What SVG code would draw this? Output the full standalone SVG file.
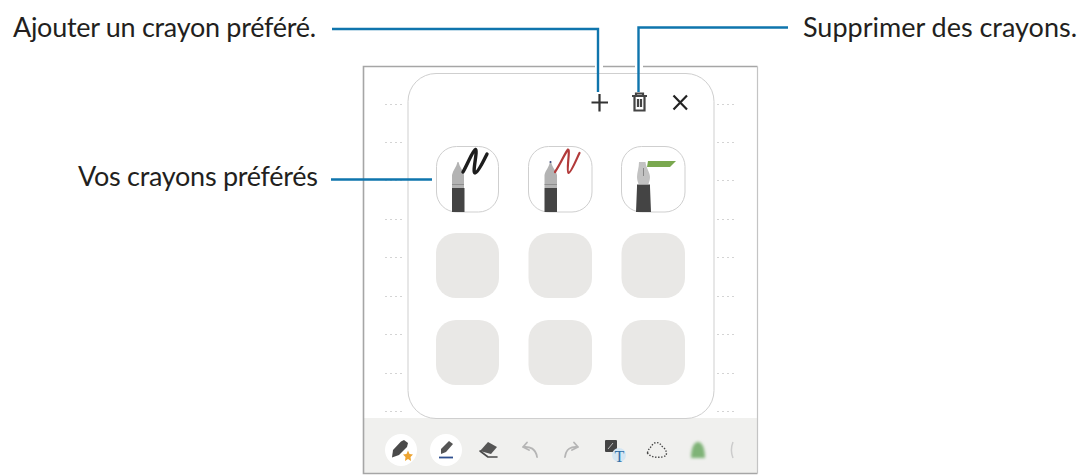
<svg xmlns="http://www.w3.org/2000/svg" width="1082" height="476" viewBox="0 0 1082 476">
<defs><style>
text{font-family:"Lato","Noto Sans",sans-serif;font-size:27px;fill:#231f20}
.conn{fill:none;stroke:#0f75ad;stroke-width:2.4}
.slot{fill:#e9e8e6}
.pen{fill:#fff;stroke:#cfcfcf;stroke-width:1}
.dots{stroke:#d4d4d4;stroke-width:1;stroke-dasharray:2 3;fill:none}
.ic{fill:none;stroke:#4a4a4a;stroke-width:1.6;stroke-linecap:round;stroke-linejoin:round}
.ig{fill:none;stroke:#b5b5b5;stroke-width:1.8;stroke-linecap:round;stroke-linejoin:round}
.tip{fill:#b3b3b3}
.body{fill:#444}
</style>
<filter id="blur" x="-30%" y="-30%" width="160%" height="160%"><feGaussianBlur stdDeviation="1.500"/></filter>
</defs>
<g id="screen">
<rect x="363.500" y="66.500" width="394" height="407" fill="#fff"/>
<rect x="364" y="418" width="394" height="55" fill="#f0f0ee"/>
<path d="M757.500 66.500H363.500V473.500H757.500" fill="none" stroke="#a6a6a6" stroke-width="1.600"/>
<path d="M757.500 66.500V473.500" fill="none" stroke="#c4c4c4" stroke-width="1.200"/>
<path d="M595 66.500H603M635 66.500H643" stroke="#fff" stroke-width="3" fill="none"/>
<path class="dots" d="M385 104.500h20M385 142.500h20M385 180.500h20M385 219.500h20M385 257.500h20M385 296.500h20M385 334.500h20M385 373.500h20M385 411.500h20M717 104.500h20M717 142.500h20M717 180.500h20M717 219.500h20M717 257.500h20M717 296.500h20M717 334.500h20M717 373.500h20M717 411.500h20"/>
<rect x="408" y="73.500" width="306" height="345" rx="28" fill="#fff" stroke="#cfcfcf"/>
</g>
<g id="pen1"><rect class="pen" x="436.500" y="146.500" width="62" height="65.500" rx="20"/>
<path class="tip" d="M452 188V175C453 170 456.500 167 457.500 162H458.500C459.500 167 463 170 464 175V188Z"/>
<path d="M452 184.500H464" stroke="#808080" stroke-width=".7" fill="none"/>
<rect class="body" x="452" y="188" width="12.500" height="24"/>
<path d="M463 172C468 163 473 150 475.500 149.500 478 150 472 173 475 173 478 173 484 160 487 154" fill="none" stroke="#1d1d1d" stroke-width="3.400" stroke-linecap="round" stroke-linejoin="round"/></g>
<g id="pen2"><rect class="pen" x="528.500" y="146.500" width="63.500" height="65.500" rx="20"/>
<path class="tip" d="M544.500 188V175C545.500 170 549.500 167 550 161H551C551.500 167 556 170 557 175V188Z"/>
<circle cx="550.500" cy="162" r="1" fill="#3a4a80"/>
<path d="M544.500 184.500H557" stroke="#808080" stroke-width=".7" fill="none"/>
<rect class="body" x="544.500" y="188" width="12.500" height="24"/>
<path d="M555 172C560 165 566 151 568 149.500 570.500 149 566 172 568.500 173 571 173 577 158 579.500 153" fill="none" stroke="#b23a3a" stroke-width="2.200" stroke-linecap="round" stroke-linejoin="round"/></g>
<g id="pen3"><rect class="pen" x="621.500" y="146.500" width="63.500" height="65.500" rx="20"/>
<path d="M648 161H676L670 167H647Z" fill="#7aa84f"/>
<path d="M639 162H645.500C646 168 650 172 650 177 650 180 649 182 648.500 184H638.500C638 182 637 180 637 177 637 172 639 168 639 162Z" fill="#c2c2c2"/>
<path d="M643.500 168V176" stroke="#777" stroke-width=".8" fill="none"/>
<path d="M637 184.500H650L650 187 651 212H636L637 187Z" class="body"/></g>
<g id="slots">
<rect class="slot" x="436" y="233" width="63" height="65" rx="20"/><rect class="slot" x="528.500" y="233" width="63.500" height="65" rx="20"/><rect class="slot" x="621.500" y="233" width="63.500" height="65" rx="20"/>
<rect class="slot" x="436" y="320" width="63" height="65" rx="20"/><rect class="slot" x="528.500" y="320" width="63.500" height="65" rx="20"/><rect class="slot" x="621.500" y="320" width="63.500" height="65" rx="20"/>
</g>
<g id="top-icons">
<path d="M591.500 102.500H608M599.500 94V111.500" fill="none" stroke="#333" stroke-width="2.200"/>
<path d="M632 96H647M636 96V93.500H643V96M634.500 96V110.500H644.500V96M638 99V107M641 99V107" fill="none" stroke="#444" stroke-width="2.200"/>
<path d="M673.500 95.500L687 109.500M687 95.500L673.500 109.500" fill="none" stroke="#222" stroke-width="2.200"/>
</g>
<g id="toolbar">
<circle cx="401" cy="450" r="16" fill="#fff"/><circle cx="446" cy="450" r="16" fill="#fff"/>
<path d="M401 441.500L404 440 408 443 407 447 399 455 392 457.500 393 450Z" fill="#4a4a4a"/>
<path d="M408 450.500L409.500 454 413 454.500 410.500 457 411 461 408 459 405 461 405.500 457 403 454.500 406.500 454Z" fill="#eda431"/>
<path d="M449 441L453 444 446 452 441 454 441 449Z" fill="#555"/><path d="M439 457.500H453" stroke="#2f4f8f" stroke-width="1.800" fill="none"/>
<path d="M488 442L497 447 491 454 480 451Z" fill="#555"/><path d="M480 451L488 457H497" class="ic"/>
<path class="ig" d="M523 447C530 446 536 449 537 457M523 447L527 442.500M523 447L529 450"/>
<path class="ig" d="M578 447C571 446 566 449 565 457M578 447L574 442.500M578 447L572 450"/>
<rect x="605" y="440" width="12" height="12" rx="1" fill="#444"/>
<path d="M608 449L613 443" stroke="#bbb" stroke-width="1" fill="none"/>
<circle cx="619" cy="455" r="7" fill="#d4e6f3"/>
<text x="614.500" y="461.500" style="font-size:16px;fill:#2f6fa8;font-family:'Liberation Serif',serif">T</text>
<path d="M647.500 453C648 449 651 447.500 652.500 444.500 655 441.500 660 442 661.500 446 665 448 667.500 452 666 455.500 662 458 651 458.500 647.500 453Z" fill="none" stroke="#444" stroke-width="1.400" stroke-dasharray="1.400 1.600"/>
<path d="M691 458C691 450 693 442 698 442 703 442 705 450 705 458Z" fill="#7fb377" filter="url(#blur)"/>
<path d="M733 442C731 447 731 453 733 458" fill="none" stroke="#ccc" stroke-width="1.500"/>
</g>
<g id="connectors">
<path d="M332 29H598V92M788 27.500H638.500V92M331 179.500H432" class="conn"/>
</g>
<g id="labels">
<text x="13" y="37" textLength="303">Ajouter un crayon préféré.</text>
<text x="803" y="37" textLength="274">Supprimer des crayons.</text>
<text x="78" y="186" textLength="240">Vos crayons préférés</text>
</g>
</svg>
